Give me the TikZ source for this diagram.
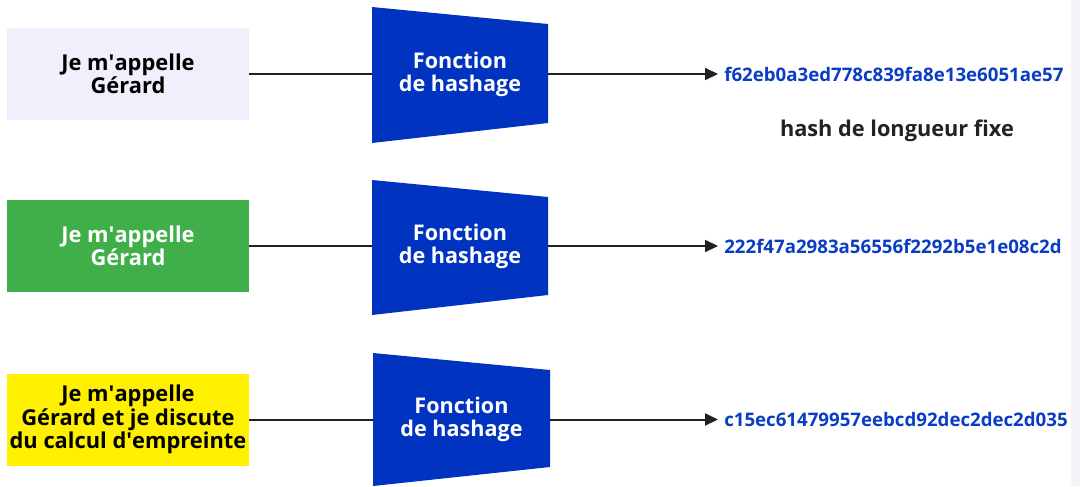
\documentclass[tikz,border=0pt]{standalone}
\usepackage{fontspec}
\setmainfont{Open Sans}
\usetikzlibrary{arrows.meta}

\definecolor{fnblue}{HTML}{0033C0}
\definecolor{hashblue}{HTML}{0A3CC4}
\definecolor{boxlav}{HTML}{F0F0FC}
\definecolor{boxgreen}{HTML}{40AF4A}
\definecolor{boxyellow}{HTML}{FFF000}
\definecolor{inkgray}{HTML}{222222}
\definecolor{striplav}{HTML}{F4F4FB}

\tikzset{
  msgbox/.style={minimum width=181.5pt,minimum height=69pt,inner sep=0pt,
    align=center,font=\bfseries\fontsize{16.4}{17.6}\selectfont},
  hashfn/.style={minimum width=132pt,minimum height=75pt,inner sep=0pt,
    align=center,text=white,font=\bfseries\fontsize{16.2}{17.4}\selectfont},
  hashout/.style={anchor=west,inner sep=4.5pt,text=hashblue,
    font=\bfseries\fontsize{14}{15}\selectfont},
  link/.style={draw=inkgray,line width=1.5pt},
  linkarrow/.style={link,-{Triangle[length=9.75pt,width=9pt]}}
}

\begin{document}
\begin{tikzpicture}[x=0.75pt,y=-0.75pt]
\useasboundingbox (0,0) rectangle (1080,486);
\fill[striplav] (1071,0) rectangle (1080,486);

% row 1
\node[msgbox,fill=boxlav] (m1) at (128,74) {Je m\textquotesingle appelle\\G\'erard};
\fill[fnblue] (372,7) -- (548,24) -- (548,123) -- (372,143) -- cycle;
\node[hashfn] (f1) at (460,74) {Fonction\\de hashage};
\node[hashout] (h1) at (718,74) {f62eb0a3ed778c839fa8e13e6051ae57};
\node[text=inkgray,font=\bfseries\fontsize{16.3}{17}\selectfont] (lg) at (897,131) {hash de longueur fixe};
\draw[link] (m1.east) -- (f1.west);
\draw[linkarrow] (f1.east) -- (h1.west);

% row 2
\node[msgbox,fill=boxgreen,text=white] (m2) at (128,246) {Je m\textquotesingle appelle\\G\'erard};
\fill[fnblue] (372,180) -- (548,197) -- (548,295) -- (372,315) -- cycle;
\node[hashfn] (f2) at (460,246) {Fonction\\de hashage};
\node[hashout] (h2) at (718,246) {222f47a2983a56556f2292b5e1e08c2d};
\draw[link] (m2.east) -- (f2.west);
\draw[linkarrow] (f2.east) -- (h2.west);

% row 3
\node[msgbox,fill=boxyellow] (m3) at (128,419.5) {Je m\textquotesingle appelle\\G\'erard et je discute\\du calcul d\textquotesingle empreinte};
\fill[fnblue] (373,353) -- (550,370) -- (550,467) -- (373,486) -- cycle;
\node[hashfn,minimum width=132.75pt] (f3) at (461.5,419.5) {Fonction\\de hashage};
\node[hashout] (h3) at (718,419.5) {c15ec61479957eebcd92dec2dec2d035};
\draw[link] (m3.east) -- (f3.west);
\draw[linkarrow] (f3.east) -- (h3.west);
\end{tikzpicture}
\end{document}
